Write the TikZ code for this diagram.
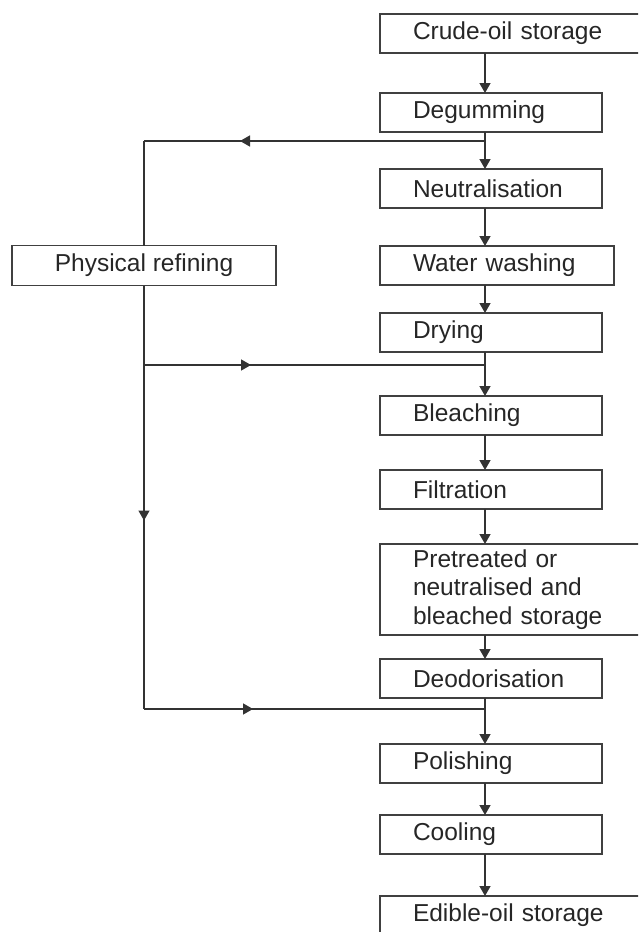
\documentclass[tikz,border=0pt]{standalone}
\usepackage{fontspec}
\setmainfont{Liberation Sans}
\usetikzlibrary{positioning, arrows.meta, decorations.markings}
\tikzset{
    procbox/.style={rectangle, draw=black!75, line width=1.3pt, text=black!85, text width=#1, align=left, inner xsep=33pt, inner ysep=2pt, outer sep=0pt, minimum height=39pt, font=\fontsize{24.5}{28.5}\selectfont},
    procbox/.default=156pt,
    sidebox/.style={rectangle, draw=black!75, line width=1.3pt, text=black!85, outer sep=0pt, minimum width=264pt, minimum height=40pt, align=center, font=\fontsize{24.5}{28.5}\selectfont},
    flow/.style={draw=black!80, line width=1.4pt},
    arr/.style={flow, -{Triangle[length=10pt, width=11pt]}},
    midtip/.style={postaction={decorate}, decoration={markings, mark=at position #1 with {\arrow{Triangle[length=10pt, width=11pt]}}}}
}

\begin{document}
\begin{tikzpicture}[x=1pt, y=-1pt]
    \useasboundingbox (0,0) rectangle (638,932);
    \clip (0,0) rectangle (638,932);
    % main line of process steps
    \node[procbox=240pt, anchor=north west] (crude) at (380,14) {Crude-oil storage};
    \node[procbox, below=40pt of crude.south west, anchor=north west] (degum) {Degumming};
    \node[procbox, below=37pt of degum.south west, anchor=north west] (neutral) {Neutralisation};
    \node[procbox=168pt, below=38pt of neutral.south west, anchor=north west] (wash) {Water washing};
    \node[procbox, below=28pt of wash.south west, anchor=north west] (dry) {Drying};
    \node[procbox, below=44pt of dry.south west, anchor=north west] (bleach) {Bleaching};
    \node[procbox, below=35pt of bleach.south west, anchor=north west] (filt) {Filtration};
    \node[procbox=240pt, minimum height=91pt, below=35pt of filt.south west, anchor=north west] (store) {Pretreated or\\neutralised and\\bleached storage};
    \node[procbox, below=24pt of store.south west, anchor=north west] (deodor) {Deodorisation};
    \node[procbox, below=46pt of deodor.south west, anchor=north west] (polish) {Polishing};
    \node[procbox, below=32pt of polish.south west, anchor=north west] (cool) {Cooling};
    \node[procbox=240pt, below=42pt of cool.south west, anchor=north west] (edible) {Edible-oil storage};
    % side route
    \node[sidebox, left=104pt of wash] (phys) {Physical refining};

    \coordinate (spine) at (485,0);
    \coordinate (split1) at (485,141);
    \coordinate (join2) at (485,365);
    \coordinate (join3) at (485,709);

    \draw[arr] (crude.south -| spine) -- (degum.north -| spine);
    \draw[arr] (degum.south -| spine) -- (neutral.north -| spine);
    \draw[arr] (neutral.south -| spine) -- (wash.north -| spine);
    \draw[arr] (wash.south -| spine) -- (dry.north -| spine);
    \draw[arr] (dry.south -| spine) -- (bleach.north -| spine);
    \draw[arr] (bleach.south -| spine) -- (filt.north -| spine);
    \draw[arr] (filt.south -| spine) -- (store.north -| spine);
    \draw[arr] (store.south -| spine) -- (deodor.north -| spine);
    \draw[arr] (deodor.south -| spine) -- (polish.north -| spine);
    \draw[arr] (polish.south -| spine) -- (cool.north -| spine);
    \draw[arr] (cool.south -| spine) -- (edible.north -| spine);

    % bypass via physical refining
    \draw[flow, midtip=245pt] (split1) -- (split1 -| phys.north);
    \draw[flow] (split1 -| phys.north) -- (phys.north);
    \draw[flow, midtip=235pt] (phys.south) -- (phys.south |- join3);
    \draw[flow, midtip=107pt] (phys.south |- join2) -- (join2);
    \draw[flow, midtip=109pt] (phys.south |- join3) -- (join3);
\end{tikzpicture}
\end{document}
